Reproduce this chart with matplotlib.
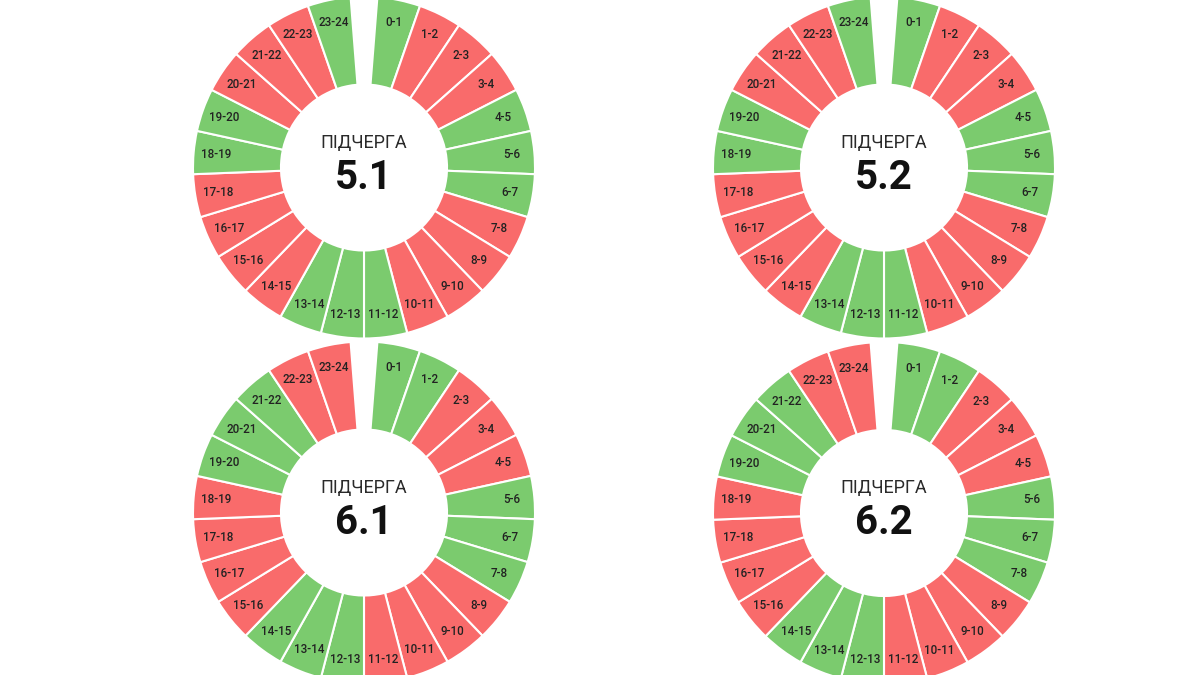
import matplotlib
matplotlib.use("Agg")
import matplotlib.pyplot as plt
import numpy as np

plt.rcParams['font.family'] = ['Roboto', 'DejaVu Sans']

hours = [f"{h}-{h+1}" for h in range(24)]
groups = ["5.1", "5.2", "6.1", "6.2"]
# 1 = power on (green), 0 = outage (red)
status_51 = [1,0,0,0,1,1,1,0,0,0,0,1,1,1,0,0,0,0,1,1,0,0,0,1]
status_52 = [1,0,0,0,1,1,1,0,0,0,0,1,1,1,0,0,0,0,1,1,0,0,0,1]
status_61 = [1,1,0,0,0,1,1,1,0,0,0,0,1,1,1,0,0,0,0,1,1,1,0,0]
status_62 = [1,1,0,0,0,1,1,1,0,0,0,0,1,1,1,0,0,0,0,1,1,1,0,0]
statuses = [status_51, status_52, status_61, status_62]
subtitle = "ПІДЧЕРГА"

GREEN = "#7BCB6E"
RED = "#F96B6B"
W, H = 1200, 675
fig = plt.figure(figsize=(12, 6.75), dpi=100)
fig.patch.set_facecolor("white")

centers = [(364, 167.5), (884, 167.5), (364, 512.5), (884, 513)]
S = 400
R_OUT = 171
R_IN = 83
GAP_DEG = 9.0
slice_deg = (360 - GAP_DEG) / 24
gap_units = GAP_DEG / slice_deg

for grp, st, (cx, cy) in zip(groups, statuses, centers):
    ax = fig.add_axes([(cx - S/2)/W, (H - cy - S/2)/H, S/W, S/H])
    vals = [gap_units] + [1]*24
    cols = ["none"] + [GREEN if s else RED for s in st]
    wedges, _ = ax.pie(vals, colors=cols, radius=R_OUT, counterclock=False,
                       startangle=90 + GAP_DEG/2,
                       wedgeprops=dict(width=R_OUT - R_IN, edgecolor="white", linewidth=1.5))
    wedges[0].set_edgecolor("none")
    r_lab = 148
    for i, lab in enumerate(hours):
        a = np.deg2rad(90 - (GAP_DEG/2 + (i + 0.5)*slice_deg))
        ax.text(r_lab*np.cos(a), r_lab*np.sin(a), lab, ha="center", va="center",
                fontsize=8.4, color="#222222", fontweight="medium")
    ax.text(0, 24.5, subtitle, ha="center", va="center", fontsize=13,
            color="#2a2a2a", fontweight="normal")
    ax.text(0, -10, grp, ha="center", va="center", fontsize=29,
            color="#111111", fontweight="bold")
    ax.set_xlim(-S/2, S/2)
    ax.set_ylim(-S/2, S/2)
    ax.set_aspect("equal")
    ax.axis("off")

fig.savefig("out.png", dpi=100, facecolor="white")
